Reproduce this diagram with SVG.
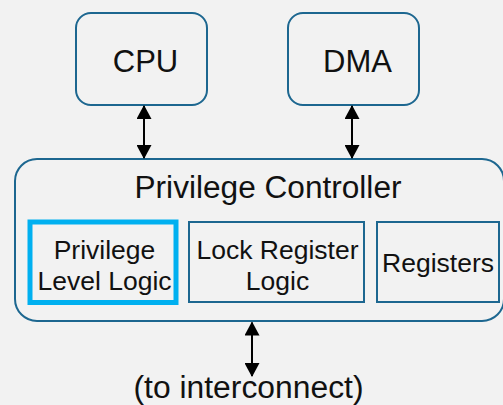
<svg xmlns="http://www.w3.org/2000/svg" width="503" height="405" viewBox="0 0 503 405">
  <defs>
    <marker id="head" viewBox="0 0 14 15" refX="13" refY="7.5" markerWidth="14" markerHeight="15" markerUnits="userSpaceOnUse" orient="auto-start-reverse">
      <path d="M0,0 L14,7.5 L0,15 Z" fill="#000"/>
    </marker>
    <style>
      .box { fill: none; stroke: #1d6790; stroke-width: 2; }
      .hl { fill: none; stroke: #00b0f0; stroke-width: 5; }
      .lbl { font-family: "Liberation Sans", Arial, sans-serif; fill: #111; text-anchor: middle; }
      .big { font-size: 31px; }
      .mid { font-size: 26.5px; }
      .link { stroke: #000; stroke-width: 2; fill: none; marker-start: url(#head); marker-end: url(#head); }
    </style>
  </defs>
  <rect width="503" height="405" fill="#f2f2f2"/>

  <g id="cpu">
    <rect class="box" x="76" y="13" width="131" height="92" rx="15"/>
    <text class="lbl big" x="145.5" y="71.5">CPU</text>
  </g>

  <g id="dma">
    <rect class="box" x="288" y="13" width="131" height="92" rx="15"/>
    <text class="lbl big" x="357.5" y="71.5">DMA</text>
  </g>

  <g id="privilege-controller">
    <rect class="box" x="15" y="159" width="489" height="162" rx="22"/>
    <text class="lbl big" x="268" y="197.5" textLength="267" lengthAdjust="spacingAndGlyphs">Privilege Controller</text>
  </g>

  <g id="privilege-level-logic">
    <rect class="hl" x="30" y="222" width="146" height="80.5"/>
    <text class="lbl mid" x="104.5" y="258.5">Privilege</text>
    <text class="lbl mid" x="104.5" y="290">Level Logic</text>
  </g>

  <g id="lock-register-logic">
    <rect class="box" x="189" y="222" width="175" height="80"/>
    <text class="lbl mid" x="277.5" y="258.5">Lock Register</text>
    <text class="lbl mid" x="277.5" y="290">Logic</text>
  </g>

  <g id="registers">
    <rect class="box" x="377" y="222" width="122" height="80"/>
    <text class="lbl mid" x="438" y="272">Registers</text>
  </g>

  <g id="interconnect">
    <text class="lbl big" x="248.5" y="397.5" textLength="230" lengthAdjust="spacingAndGlyphs">(to interconnect)</text>
  </g>

  <g id="connectors">
    <line class="link" x1="144" y1="106" x2="144" y2="158"/>
    <line class="link" x1="352" y1="106" x2="352" y2="158"/>
    <line class="link" x1="252" y1="322.5" x2="252" y2="376"/>
  </g>
</svg>
